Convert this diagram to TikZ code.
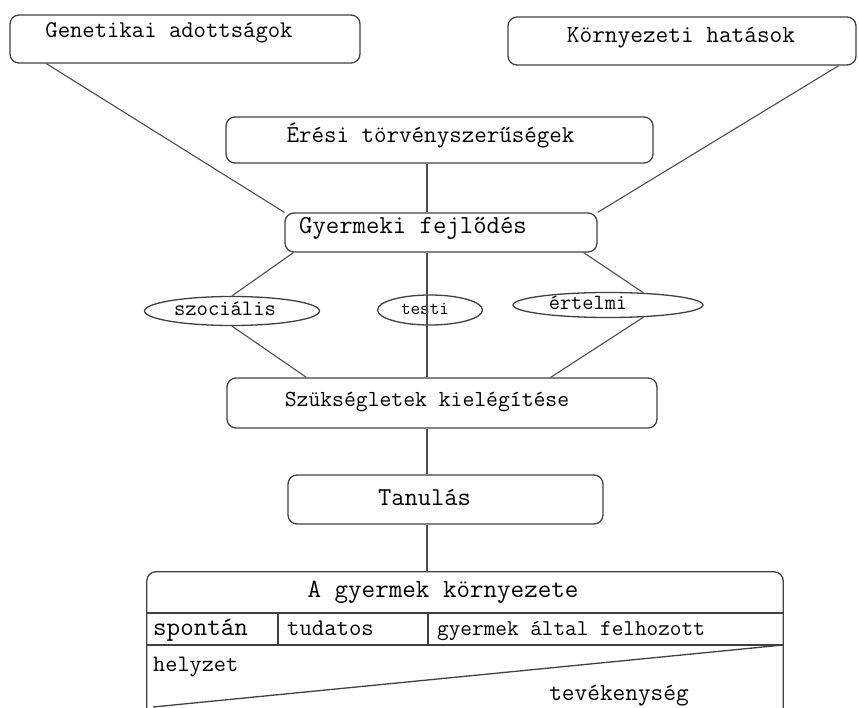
\documentclass[tikz,border=0pt]{standalone}
\usepackage{fontspec}
\usetikzlibrary{calc,shapes.geometric}

\tikzset{
  box/.style={draw=black!75, line width=1.3pt, rounded corners=9pt, inner sep=0pt},
  oval/.style={draw=black!75, line width=1.3pt, ellipse, inner sep=0pt},
  txt/.style={font=\ttfamily\fontsize{#1}{#1}\selectfont, inner sep=0pt},
  txt/.default=24,
  conn/.style={draw=black!70, line width=1.1pt},
  rule/.style={draw=black!75, line width=1.3pt}
}

\begin{document}
\begin{tikzpicture}[x=1pt,y=-1pt]
\useasboundingbox (0,0) rectangle (859,708);
\coordinate (axis) at (427,0);

% felso dobozok
\node[box, minimum width=350pt, minimum height=48pt,
  label={[txt, xshift=-16pt, yshift=6pt]center:Genetikai adottságok}] (gen) at (185,39) {};
\node[box, minimum width=348pt, minimum height=48pt,
  label={[txt=24.6, xshift=-1pt, yshift=3pt]center:Környezeti hatások}] (env) at (682,41) {};
\node[box, minimum width=427pt, minimum height=46pt,
  label={[txt=24.3, xshift=-9pt, yshift=5pt]center:Érési törvényszerűségek}] (eres) at (439.5,140) {};
\node[box, minimum width=312pt, minimum height=39pt,
  label={[txt=26, xshift=-28pt, yshift=4pt]center:Gyermeki fejlődés}] (fejl) at (441,232.5) {};

% a fejlodes teruletei
\node[oval, minimum width=175pt, minimum height=29pt,
  label={[txt=22, xshift=-7pt, yshift=2pt]center:szociális}] (szoc) at (232,311) {};
\node[oval, minimum width=105pt, minimum height=30pt,
  label={[txt=18.6, xshift=-5pt, yshift=1pt]center:testi}] (testi) at (430,310) {};
\node[oval, minimum width=190pt, minimum height=25pt,
  label={[txt=21.7, xshift=-20pt, yshift=2pt]center:értelmi}] (ert) at (608,305) {};

\node[box, minimum width=430pt, minimum height=50pt,
  label={[txt=23, xshift=-15pt, yshift=1pt]center:Szükségletek kielégítése}] (szuk) at (442,403) {};
\node[box, minimum width=315pt, minimum height=49pt,
  label={[txt=25.8, xshift=-21pt, yshift=2pt]center:Tanulás}] (tan) at (445.5,499.5) {};

% also tablazat
\node[minimum width=636pt, minimum height=143pt, inner sep=0pt] (frame) at (465,643.5) {};
\draw[box] (frame.south west) |- (frame.north) -| (frame.south east);
\coordinate (r1) at (0,613);
\coordinate (r2) at (0,645);
\draw[rule] (frame.west |- r1) -- (frame.east |- r1);
\draw[rule] (frame.west |- r2) -- (frame.east |- r2);
\draw[rule] (278,613) -- (278,645);
\draw[rule] (428,613) -- (428,645);
\draw[rule] (153,707) -- (frame.east |- r2);

\node[txt=26.3, anchor=base] (kor) at (443,597) {A gyermek környezete};
\node[txt=26.3, anchor=base west] (spontan) at (153,635) {spontán};
\node[txt, anchor=base west] (tudatos) at (287,635) {tudatos};
\node[txt=22.6, anchor=base west] (felhoz) at (437,635) {gyermek által felhozott};
\node[txt=23.6, anchor=base west] (helyzet) at (153,671) {helyzet};
\node[txt=24.6, anchor=base] (tevek) at (619,700) {tevékenység};

% osszekotesek
\draw[conn] ($(gen.south west)+(37,0)$) -- (fejl.north west);
\draw[conn] ($(env.south east)+(-18,0)$) -- (fejl.north east);
\draw[conn] (eres.south -| axis) -- (fejl.north -| axis);
\draw[conn] ($(fejl.south west)+(9,0)$) -- (szoc.north);
\draw[conn] (szoc.south) -- ($(szuk.north west)+(80,0)$);
\draw[conn] ($(fejl.south east)+(-14,0)$) -- (ert.19);
\draw[conn] (ert.-19) -- ($(szuk.north east)+(-107,0)$);
\draw[conn] (fejl.south -| axis) -- (szuk.north -| axis);
\draw[conn] (szuk.south -| axis) -- (tan.north -| axis);
\draw[conn] (tan.south -| axis) -- (frame.north -| axis);

\end{tikzpicture}
\end{document}
